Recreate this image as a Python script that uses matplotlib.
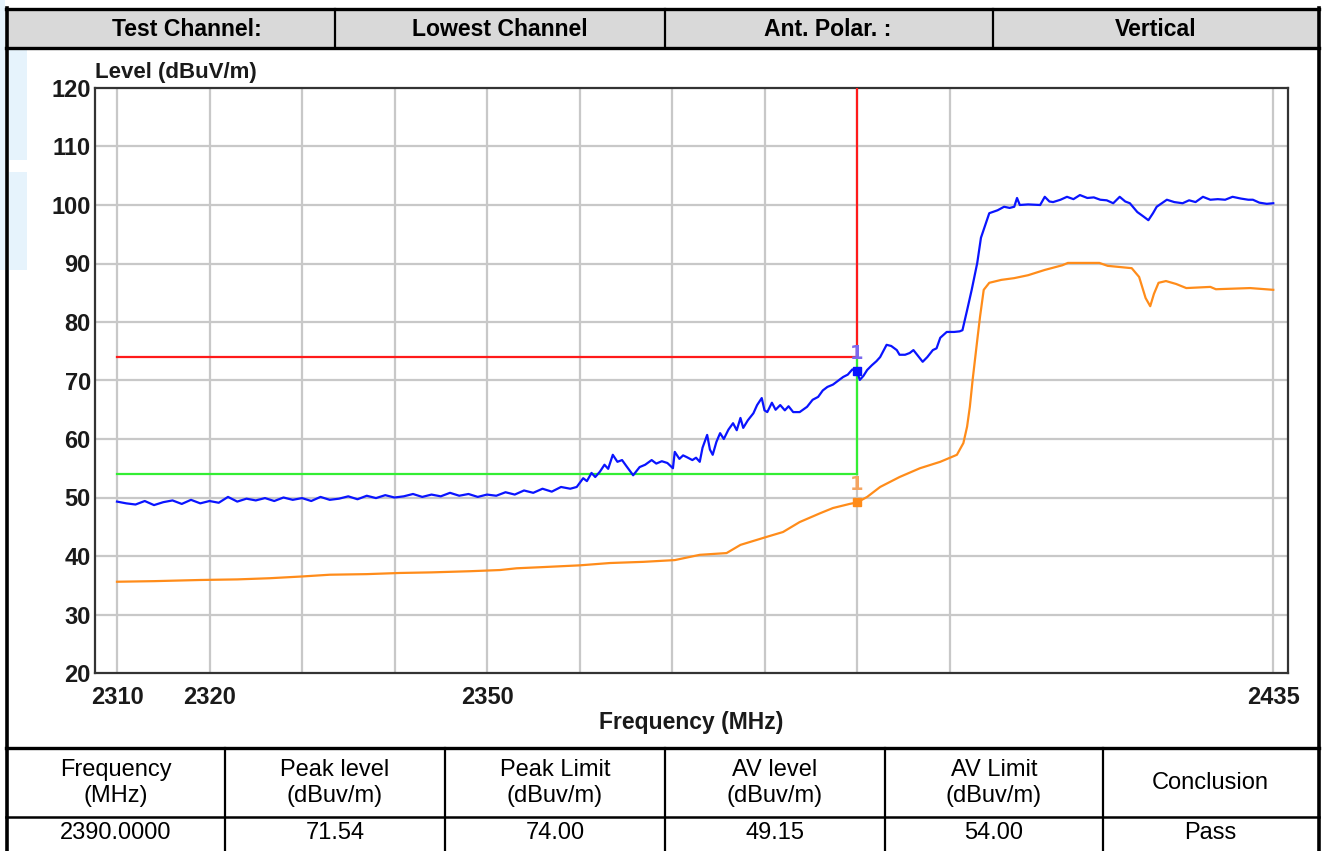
import matplotlib
matplotlib.use("Agg")
import matplotlib.pyplot as plt
from matplotlib.patches import Rectangle
from matplotlib.lines import Line2D

W, H = 1325, 851

# ---------------- data ----------------
header_cells = ["Test Channel:", "Lowest Channel", "Ant. Polar. :", "Vertical"]
table_headers = ["Frequency\n(MHz)", "Peak level\n(dBuv/m)", "Peak Limit\n(dBuv/m)",
                 "AV level\n(dBuv/m)", "AV Limit\n(dBuv/m)", "Conclusion"]
table_values = ["2390.0000", "71.54", "74.00", "49.15", "54.00", "Pass"]

marker_freq = 2390.0
peak_level = 71.54
peak_limit = 74.0
av_level = 49.15
av_limit = 54.0

x_ticks = [2310, 2320, 2350, 2435]
y_ticks = [20, 30, 40, 50, 60, 70, 80, 90, 100, 110, 120]
grid_freqs = [2310, 2320, 2330, 2340, 2350, 2360, 2370, 2380, 2390, 2400, 2435]

peak_freq = [2310, 2311, 2312, 2313, 2314, 2315, 2316, 2317, 2318, 2319, 2320, 2321, 2322,
             2323, 2324, 2325, 2326, 2327, 2328, 2329, 2330, 2331, 2332, 2333, 2334, 2335,
             2336, 2337, 2338, 2339, 2340, 2341, 2342, 2343, 2344, 2345, 2346, 2347, 2348,
             2349, 2350, 2351, 2352, 2353, 2354, 2355, 2356, 2357, 2358, 2359,
             2359.7, 2360.4, 2360.8, 2361.3, 2361.7, 2362.2, 2362.7, 2363.1, 2363.6, 2364.1,
             2364.6, 2365.1, 2365.8, 2366.5, 2367.1, 2367.8, 2368.3, 2368.9, 2369.5, 2370.1,
             2370.3, 2370.8, 2371.2, 2371.6, 2372.2, 2372.6, 2373.0, 2373.3, 2373.8, 2374.1,
             2374.4, 2374.8, 2375.2, 2375.6, 2376.1, 2376.6, 2377.0, 2377.4, 2377.7, 2378.2,
             2378.8, 2379.2, 2379.7, 2380.0, 2380.3, 2380.8, 2381.2, 2381.7, 2382.2, 2382.6,
             2383.1, 2383.8, 2384.6, 2385.2, 2385.8, 2386.3, 2386.8, 2387.4, 2387.9, 2388.5,
             2389.0, 2389.5, 2390.0, 2390.3, 2390.7, 2391.1, 2391.6, 2392.1, 2392.5, 2392.9,
             2393.2, 2393.7, 2394.3, 2394.6, 2395.2, 2395.7, 2396.1, 2396.6, 2397.1, 2397.6,
             2398.2, 2398.6, 2399.0, 2399.7, 2400.5, 2401.1, 2401.4, 2401.9, 2402.4, 2403.0,
             2403.4, 2403.7, 2404.3, 2405.2, 2405.9, 2406.5, 2407.0, 2407.3, 2407.6, 2408.5,
             2409.8, 2410.3, 2410.8, 2411.2, 2412.0, 2412.7, 2413.4, 2414.1, 2414.9, 2415.6,
             2416.3, 2417.0, 2417.7, 2418.4, 2419.0, 2419.5, 2420.3, 2421.0, 2421.5, 2422.0,
             2422.4, 2423.5, 2424.3, 2425.2, 2425.9, 2426.6, 2427.4, 2428.2, 2429.0, 2429.8,
             2430.6, 2431.5, 2432.3, 2432.8, 2433.5, 2434.3, 2435.0]
peak_vals = [49.3, 49.0, 48.8, 49.4, 48.7, 49.2, 49.5, 48.9, 49.6, 49.0, 49.4, 49.1, 50.1,
             49.3, 49.8, 49.5, 49.9, 49.4, 50.0, 49.6, 49.9, 49.4, 50.1, 49.6, 49.8, 50.2,
             49.7, 50.3, 49.9, 50.4, 50.0, 50.2, 50.6, 50.1, 50.5, 50.2, 50.8, 50.3, 50.6,
             50.1, 50.5, 50.3, 50.9, 50.5, 51.2, 50.8, 51.5, 51.0, 51.8, 51.5,
             51.8, 53.3, 52.8, 54.2, 53.5, 54.4, 55.6, 54.9, 57.3, 56.1,
             56.4, 55.3, 53.8, 55.2, 55.6, 56.4, 55.8, 56.2, 55.9, 55.0,
             57.8, 56.6, 57.2, 56.9, 56.4, 56.8, 56.1, 58.5, 60.7, 58.2,
             57.3, 59.5, 61.0, 60.0, 61.6, 62.7, 61.5, 63.6, 61.9, 63.2,
             64.4, 65.8, 67.0, 64.9, 64.6, 66.2, 65.0, 65.8, 64.9, 65.6,
             64.6, 64.6, 65.5, 66.7, 67.2, 68.3, 68.9, 69.3, 69.9, 70.6,
             71.0, 71.9, 71.54, 70.1, 70.8, 71.8, 72.6, 73.3, 74.0, 75.2,
             76.1, 75.9, 75.2, 74.4, 74.4, 74.7, 75.2, 74.2, 73.2, 74.0,
             75.2, 75.5, 77.3, 78.3, 78.3, 78.4, 78.6, 82.0, 85.5, 90.1,
             94.4, 95.8, 98.6, 99.1, 99.7, 99.5, 99.7, 101.2, 100.0, 100.1,
             100.0, 101.4, 100.6, 100.5, 100.9, 101.4, 101.0, 101.7, 101.2, 101.3,
             100.9, 100.8, 100.3, 101.4, 100.6, 100.3, 98.8, 98.0, 97.4, 98.6,
             99.7, 100.9, 100.5, 100.3, 100.8, 100.5, 101.4, 100.9, 101.0, 100.9,
             101.4, 101.1, 100.9, 100.9, 100.4, 100.2, 100.3]

av_freq = [2310, 2314, 2319, 2323, 2326.5, 2330, 2333, 2337, 2340.6, 2344, 2348.2, 2351.4,
           2353.2, 2356, 2360, 2363.3, 2366.9, 2370.3, 2373.0, 2375.9, 2377.4, 2380.3,
           2382.0, 2383.8, 2386.0, 2387.4, 2389.2, 2390.0, 2391.1, 2392.5, 2394.6, 2396.8,
           2399.0, 2400.8, 2401.5, 2401.9, 2402.2, 2402.5, 2403.0, 2403.3, 2403.7, 2404.3,
           2405.6, 2407.0, 2408.5, 2410.3, 2412.2, 2412.8, 2416.2, 2417.1, 2419.7, 2420.5,
           2421.2, 2421.7, 2422.1, 2422.6, 2423.4, 2424.5, 2425.6, 2428.2, 2428.8, 2432.5,
           2435.0]
av_vals = [35.6, 35.7, 35.9, 36.0, 36.2, 36.5, 36.8, 36.9, 37.1, 37.2, 37.4, 37.6,
           37.9, 38.1, 38.4, 38.8, 39.0, 39.3, 40.2, 40.5, 41.9, 43.3,
           44.1, 45.8, 47.3, 48.2, 48.9, 49.15, 50.1, 51.8, 53.5, 55.0,
           56.1, 57.3, 59.3, 62.1, 65.5, 70.1, 76.9, 80.9, 85.5, 86.7,
           87.2, 87.5, 88.0, 88.9, 89.7, 90.1, 90.1, 89.6, 89.2, 87.7,
           84.1, 82.7, 84.8, 86.7, 87.0, 86.5, 85.8, 86.0, 85.6, 85.8,
           85.5]

# ---------------- figure ----------------
fig = plt.figure(figsize=(W / 100, H / 100), dpi=100)
fig.patch.set_facecolor("white")

def fx(x):
    return x / W

def fy(y):
    return 1 - y / H

def frect(x0, y0, x1, y1, **kw):
    fig.patches.append(Rectangle((fx(x0), fy(y1)), fx(x1) - fx(x0), fy(y0) - fy(y1),
                                 transform=fig.transFigure, figure=fig, **kw))

def fline(x0, y0, x1, y1, lw=2.2, color="black", z=5):
    fig.lines.append(Line2D([fx(x0), fx(x1)], [fy(y0), fy(y1)], transform=fig.transFigure,
                            figure=fig, lw=lw, color=color, zorder=z,
                            solid_capstyle="projecting"))

# faint watermark shapes
wm = "#e6f3fc"
frect(0, 0, 5, 270, facecolor=wm, edgecolor="none", zorder=0)
frect(9, 50, 27, 160, facecolor=wm, edgecolor="none", zorder=0)
frect(9, 172, 27, 270, facecolor=wm, edgecolor="none", zorder=0)

sans = ["Liberation Sans", "DejaVu Sans"]

# header row
frect(7, 9, 1319, 48, facecolor="#d9d9d9", edgecolor="none", zorder=1)
fline(6, 8.5, 1319, 8.5, lw=2.4)
fline(6, 48, 1319, 48, lw=2.4)
fline(6.5, 8, 6.5, 851, lw=2.6)
fline(1318.5, 8, 1318.5, 851, lw=2.6)
for xd in [335, 665, 993]:
    fline(xd, 9, xd, 48, lw=1.6)
hdr_x = [187, 500, 828, 1156]
for t, xc in zip(header_cells, hdr_x):
    fig.text(fx(xc), fy(29), t, ha="center", va="center", fontsize=16.6, fontweight="bold",
             family=sans, color="black")

# bottom table
fline(6, 747.5, 1319, 747.5, lw=2.4)
fline(6, 816.5, 1319, 816.5, lw=1.8)
col_edges = [7, 225, 445, 665, 885, 1103, 1318]
for xd in col_edges[1:-1]:
    fline(xd, 748, xd, 851, lw=1.6)
for i, (hd, v) in enumerate(zip(table_headers, table_values)):
    xc = (col_edges[i] + col_edges[i + 1]) / 2
    fig.text(fx(xc), fy(783), hd, ha="center", va="center", fontsize=17,
             family=sans, color="black", linespacing=1.18)
    fig.text(fx(xc), fy(833), v, ha="center", va="center", fontsize=17,
             family=sans, color="black")

# ---------------- plot axes ----------------
px_per_mhz = 9.25
x_left_px, x_right_px, x0_px = 95, 1288, 117
top_px, bot_px = 88, 673
ax = fig.add_axes([fx(x_left_px), fy(bot_px), fx(x_right_px) - fx(x_left_px),
                   fy(top_px) - fy(bot_px)])
ax.set_xlim(2310 - (x0_px - x_left_px) / px_per_mhz, 2310 + (x_right_px - x0_px) / px_per_mhz)
ax.set_ylim(20, 120)

grid_c = "#c8c8c8"
for g in grid_freqs:
    ax.axvline(g, color=grid_c, lw=1.6, zorder=1)
for yv in y_ticks[1:-1]:
    ax.axhline(yv, color=grid_c, lw=1.6, zorder=1)

for sp in ax.spines.values():
    sp.set_color("#333333")
    sp.set_linewidth(1.6)

tick_font = dict(family=sans, fontweight="bold", fontsize=17)
ax.set_xticks(x_ticks)
ax.set_xticklabels([str(v) for v in x_ticks], **tick_font, color="#1a1a1a")
ax.set_yticks(y_ticks)
ax.set_yticklabels([str(v) for v in y_ticks], **tick_font, color="#1a1a1a")
ax.tick_params(axis="both", length=0)
ax.tick_params(axis="x", pad=9)
ax.tick_params(axis="y", pad=3)

ax.set_xlabel("Frequency (MHz)", family=sans, fontweight="bold", fontsize=16.5,
              color="#1a1a1a", labelpad=2)
ax.text(0.0, 1.008, "Level (dBuV/m)", transform=ax.transAxes, ha="left", va="bottom",
        family=sans, fontweight="bold", fontsize=16, color="#1a1a1a")

# limit lines
ax.plot([2310, marker_freq], [peak_limit, peak_limit], color="#ff1a1a", lw=1.6, zorder=3)
ax.plot([marker_freq, marker_freq], [peak_limit, 120], color="#ff1a1a", lw=1.6, zorder=3)
ax.plot([2310, marker_freq], [av_limit, av_limit], color="#33ee33", lw=1.6, zorder=3)
ax.plot([marker_freq, marker_freq], [av_limit, peak_limit], color="#33ee33", lw=1.6, zorder=3)

# traces
ax.plot(peak_freq, peak_vals, color="#0a14ff", lw=1.6, zorder=4)
ax.plot(av_freq, av_vals, color="#ff8c1a", lw=1.6, zorder=4)

# markers
ax.plot([marker_freq], [peak_level], marker="s", ms=6, color="#0a14ff", zorder=5)
ax.plot([marker_freq], [av_level], marker="s", ms=6, color="#ff8c1a", zorder=5)
ax.text(marker_freq, peak_level + 1.4, "1", ha="center", va="bottom", fontsize=14,
        fontweight="bold", color="#7b68ee", zorder=6)
ax.text(marker_freq, av_level + 1.4, "1", ha="center", va="bottom", fontsize=14,
        fontweight="bold", color="#f4a460", zorder=6)

fig.savefig("out.png", dpi=100)
